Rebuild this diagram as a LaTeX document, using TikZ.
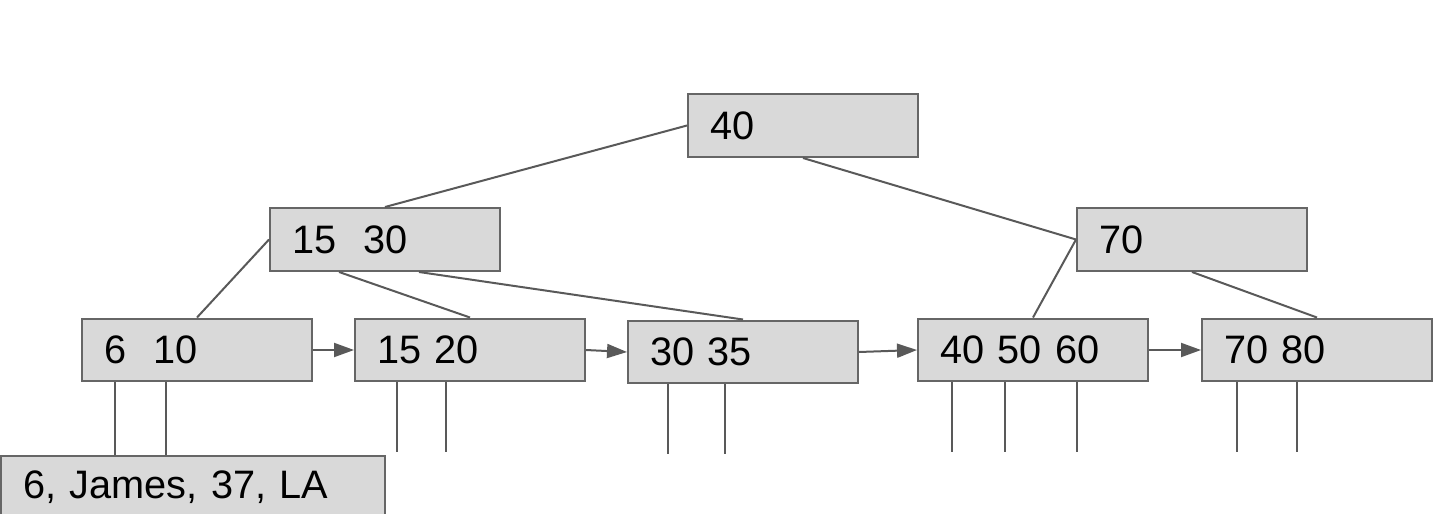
\documentclass[tikz,border=0pt]{standalone}
\usepackage{fontspec}
\setmainfont{Liberation Sans}
\usetikzlibrary{arrows.meta,calc}

\definecolor{boxfill}{HTML}{D9D9D9}
\definecolor{boxline}{HTML}{666666}
\definecolor{wire}{HTML}{595959}

\begin{document}
\begin{tikzpicture}[
    x=0.02cm, y=-0.02cm,
    font=\fontsize{22.6}{27}\selectfont,
    keybox/.style={
        rectangle,
        draw=boxline,
        line width=0.04cm,
        fill=boxfill,
        minimum width=4.6cm,
        minimum height=1.26cm,
        inner xsep=0.45cm,
        text width=3.7cm,
        align=left
    },
    recordbox/.style={
        keybox,
        minimum width=7.68cm,
        minimum height=1.24cm,
        text width=6.78cm
    },
    branch/.style={draw=wire, line width=0.04cm},
    link/.style={branch, -{Triangle[length=0.4cm, width=0.28cm]}},
    ptr/.style={branch}
]
\useasboundingbox (0,0) rectangle (1448,514);

% inner levels
\node[keybox] (root) at (803,125.5) {40};
\node[keybox] (n1530) at (385,239.5) {15~~30};
\node[keybox] (n70) at (1192,239.5) {70};

% leaves
\node[keybox] (l610) at (197,350) {6~~10};
\node[keybox] (l1520) at (470,350) {15 20};
\node[keybox] (l3035) at (743,352) {30 35};
\node[keybox] (l405060) at (1033,350) {40 50 60};
\node[keybox] (l7080) at (1317,350) {70 80};

% row record
\node[recordbox] (record) at (193,487) {6, James, 37, LA};

% tree branches
\draw[branch] (root.west) -- (n1530.north);
\draw[branch] (root.south) -- (n70.west);
\draw[branch] (n1530.west) -- (l610.north);
\draw[branch] ($(n1530.south west)+(70,0)$) -- (l1520.north);
\draw[branch] ($(n1530.south west)+(150,0)$) -- (l3035.north);
\draw[branch] (n70.west) -- (l405060.north);
\draw[branch] (n70.south) -- (l7080.north);

% leaf chain
\draw[link] (l610.east) -- (l1520.west);
\draw[link] (l1520.east) -- (l3035.west);
\draw[link] (l3035.east) -- (l405060.west);
\draw[link] (l405060.east) -- (l7080.west);

% record pointers
\foreach \dx in {34,85}
    \draw[ptr] ($(l610.south west)+(\dx,0)$) coordinate (p) -- (p |- record.north);
\foreach \leaf/\dx in {l1520/43, l1520/92, l3035/41, l3035/98, l405060/35, l405060/88, l405060/160, l7080/36, l7080/96}
    \draw[ptr] ($(\leaf.south west)+(\dx,0)$) -- ++(0,70);

\end{tikzpicture}
\end{document}
